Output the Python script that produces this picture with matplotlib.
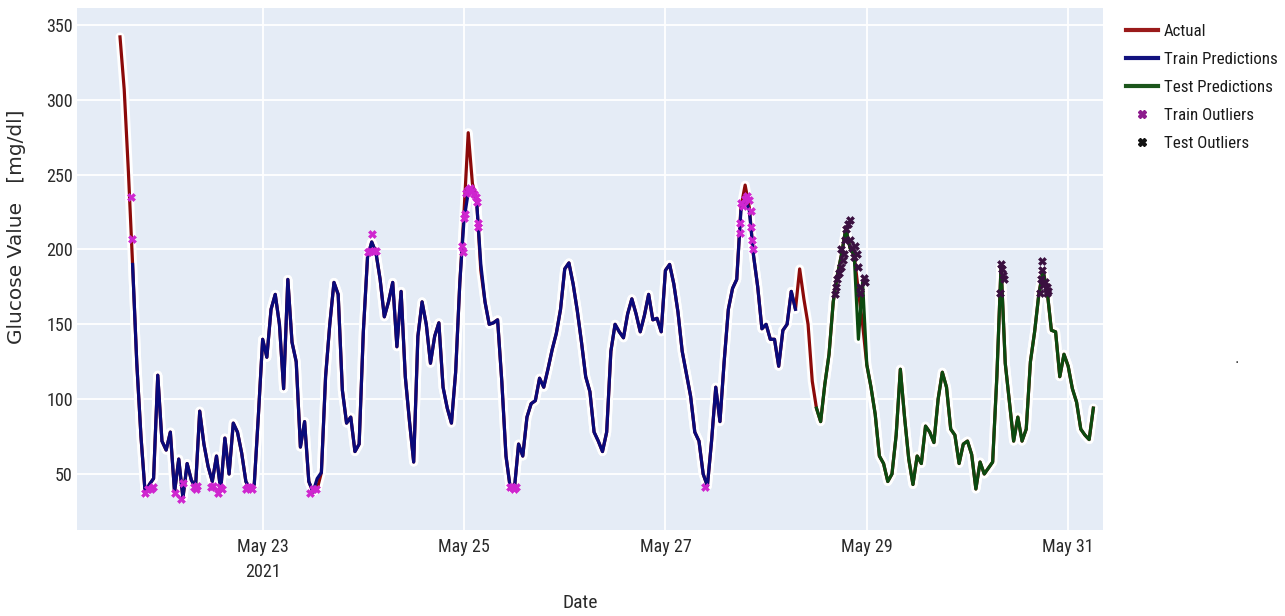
import numpy as np
import pandas as pd
import matplotlib
matplotlib.use("Agg")
import matplotlib.pyplot as plt
import matplotlib.dates as mdates
from matplotlib import font_manager
from matplotlib.lines import Line2D

# ---------------- data ----------------
start_time = "2021-05-21 14:00"   # hourly samples

actual = [
    342, 307, 252, 190, 124, 75, 37, 43, 47, 116,
    72, 66, 78, 38, 60, 34, 57, 46, 41, 92,
    70, 55, 45, 62, 39, 74, 50, 84, 78, 64,
    45, 40, 43, 90, 140, 128, 160, 170, 150, 107,
    180, 138, 125, 68, 85, 45, 38, 40, 51, 115,
    150, 178, 170, 106, 84, 88, 65, 70, 145, 195,
    205, 198, 180, 155, 165, 178, 135, 172, 115, 85,
    58, 142, 165, 150, 124, 142, 151, 108, 94, 84,
    118, 178, 225, 278, 244, 233, 186, 165, 150, 151,
    153, 112, 62, 41, 40, 70, 62, 88, 97, 99,
    114, 108, 120, 133, 144, 160, 187, 191, 177, 159,
    138, 115, 105, 78, 72, 65, 78, 132, 150, 145,
    141, 157, 167, 157, 145, 156, 170, 153, 154, 145,
    186, 190, 177, 158, 132, 117, 102, 78, 72, 50,
    42, 72, 108, 85, 125, 160, 174, 180, 228, 243,
    228, 196, 175, 147, 150, 140, 140, 122, 146, 150,
    172, 160, 187, 167, 150, 112, 94, 85, 110, 130,
    165, 183, 197, 214, 201, 196, 172, 150, 123, 108,
    90, 62, 57, 45, 50, 76, 120, 88, 60, 43,
    62, 57, 82, 78, 71, 100, 118, 108, 80, 76,
    57, 70, 72, 63, 40, 58, 50, 54, 58, 115,
    189, 124, 98, 72, 88, 72, 80, 125, 145, 170,
    186, 172, 146, 145, 115, 130, 122, 107, 98, 80,
    76, 73, 94,
]

train_pred_start = 3      # index into the hourly series
train_pred = [
    190, 124, 75, 37, 43, 47, 116,
    72, 66, 78, 38, 60, 34, 57, 46, 41, 92,
    70, 55, 45, 62, 39, 74, 50, 84, 78, 64,
    45, 40, 43, 90, 140, 128, 160, 170, 150, 107,
    180, 138, 125, 68, 85, 45, 38, 47, 51, 115,
    150, 178, 170, 106, 84, 88, 65, 70, 145, 195,
    205, 198, 180, 155, 165, 178, 135, 172, 115, 85,
    58, 142, 165, 150, 124, 142, 151, 108, 94, 84,
    118, 178, 220, 238, 240, 232, 190, 165, 150, 151,
    153, 112, 62, 41, 40, 70, 62, 88, 97, 99,
    114, 108, 120, 133, 144, 160, 187, 191, 177, 159,
    138, 115, 105, 78, 72, 65, 78, 132, 150, 145,
    141, 157, 167, 157, 145, 156, 170, 153, 154, 145,
    186, 190, 177, 158, 132, 117, 102, 78, 72, 50,
    42, 72, 108, 85, 125, 160, 174, 180, 226, 234,
    226, 196, 175, 147, 150, 140, 140, 122, 146, 150,
    172, 160,
]

test_pred_start = 166
test_pred = [
    94, 85, 110, 130,
    165, 183, 197, 214, 201, 196, 140, 178, 123, 108,
    90, 62, 57, 45, 50, 76, 120, 88, 60, 43,
    62, 57, 82, 78, 71, 100, 118, 108, 80, 76,
    57, 70, 72, 63, 40, 58, 50, 54, 58, 115,
    189, 124, 98, 72, 88, 72, 80, 125, 145, 170,
    186, 172, 146, 145, 115, 130, 122, 107, 98, 80,
    76, 73, 94,
]

train_outlier_hours = [2.55, 2.79, 5.96, 6.67, 7.39, 7.86, 13.11, 14.54, 14.94,
                       17.64, 18.11, 18.35, 21.69, 22.16, 23.43, 23.83, 24.31,
                       30.03, 30.5, 30.98, 31.46, 45.28, 46.0, 46.71,
                       59.1, 59.58, 60.06, 60.53, 61.01,
                       81.51, 81.67, 82.05, 82.22, 82.46, 82.94, 83.41, 83.89,
                       84.37, 84.84, 85.08, 85.32, 85.44,
                       92.95, 93.42, 93.9, 94.38, 139.42,
                       147.76, 147.83, 148.0, 148.47, 148.95, 149.43, 149.9,
                       150.38, 150.45, 150.69, 150.93]
train_outlier_values = [235, 207, 37, 40, 40, 41, 37, 33, 44,
                        41, 40, 42, 41, 42, 37, 41, 40,
                        40, 41, 41, 40, 37, 40, 40,
                        198, 199, 210, 199, 199,
                        202, 198, 221, 224, 238, 240, 241, 239,
                        237, 235, 232, 218, 215,
                        41, 41, 40, 41, 41,
                        211, 218, 231, 229, 234, 236, 233,
                        226, 215, 206, 200]

test_outlier_hours = [170.4, 170.64, 170.95, 171.35, 171.76, 171.88, 172.35, 172.66,
                      172.9, 173.02, 173.45, 173.93, 174.1, 174.5, 174.88, 175.29,
                      175.69, 175.83, 176.31, 176.48, 177.26, 177.67,
                      209.84, 209.96, 210.2, 210.44, 210.68,
                      219.26, 219.5, 219.66, 219.8, 220.04, 220.45, 220.85, 220.93, 221.21]
test_outlier_values = [170, 175, 180, 184, 188, 200, 193, 197,
                       206, 214, 217, 220, 206, 201, 195, 202,
                       197, 188, 175, 171, 181, 178,
                       171, 190, 187, 183, 180,
                       171, 180, 192, 186, 176, 178, 175, 171, 172]

y_ticks = [50, 100, 150, 200, 250, 300, 350]
x_tick_dates = ["2021-05-23", "2021-05-25", "2021-05-27", "2021-05-29", "2021-05-31"]
x_tick_labels = ["May 23\n2021", "May 25", "May 27", "May 29", "May 31"]
series_names = ["Actual", "Train Predictions", "Test Predictions", "Train Outliers", "Test Outliers"]

# ---------------- fonts ----------------
available = {f.name for f in font_manager.fontManager.ttflist}
narrow = None
for cand in ["Liberation Sans Narrow", "DejaVu Sans Condensed", "Roboto Condensed",
             "Open Sans Condensed", "Noto Sans Condensed"]:
    if cand in available:
        narrow = cand
        break
if narrow is not None:
    NFONT = [narrow, "DejaVu Sans"]
    tick_fs, leg_fs, xlab_fs = 13, 12.2, 14
else:
    NFONT = ["Roboto", "DejaVu Sans"]
    tick_fs, leg_fs, xlab_fs = 10.8, 10.2, 12

# ---------------- figure ----------------
W, H = 1285, 616
fig = plt.figure(figsize=(W / 100, H / 100), dpi=100)
fig.patch.set_facecolor("white")
ax = fig.add_axes([77 / W, 1 - 530 / H, (1103 - 77) / W, (530 - 8) / H])
ax.set_facecolor("#E5ECF6")

t0 = pd.Timestamp(start_time)
times = pd.date_range(t0, periods=len(actual), freq="h")
train_times = times[train_pred_start:train_pred_start + len(train_pred)]
test_times = times[test_pred_start:test_pred_start + len(test_pred)]
tr_out_t = t0 + pd.to_timedelta(train_outlier_hours, unit="h")
te_out_t = t0 + pd.to_timedelta(test_outlier_hours, unit="h")

c_actual = "#8B0A0A"
c_train = "#0A0A7A"
c_test = "#0C4A10"
c_tr_out = "#CF26CF"
c_te_out = "#3A1040"

halo = dict(color="white", lw=6.5, solid_capstyle="round", solid_joinstyle="round", zorder=2)
ax.plot(times, actual, **halo)
ax.plot(train_times, train_pred, **halo)
ax.plot(test_times, test_pred, **halo)

ax.plot(times, actual, color=c_actual, lw=2.3, zorder=3, solid_joinstyle="round")
ax.plot(train_times, train_pred, color=c_train, lw=2.3, zorder=4, solid_joinstyle="round")
ax.plot(test_times, test_pred, color=c_test, lw=2.3, zorder=5, solid_joinstyle="round")

ax.plot(tr_out_t, train_outlier_values, ls="none", marker="X", ms=5.8,
        color=c_tr_out, mec=c_tr_out, mew=0.4, zorder=6)
ax.plot(te_out_t, test_outlier_values, ls="none", marker="X", ms=5.8,
        color=c_te_out, mec=c_te_out, mew=0.4, zorder=7)

# axes ranges / ticks
ax.set_xlim(t0 - pd.Timedelta(hours=10.25), t0 + pd.Timedelta(hours=234.3))
ax.set_ylim(12.6, 361.3)
ax.set_yticks(y_ticks)
ax.set_xticks(pd.to_datetime(x_tick_dates))
ax.set_xticklabels(x_tick_labels)
for s in ax.spines.values():
    s.set_visible(False)
ax.grid(True, color="white", lw=1.3)
ax.set_axisbelow(True)
ax.tick_params(axis="both", length=0, colors="#2a2a2a")
ax.tick_params(axis="x", pad=6)
ax.tick_params(axis="y", pad=3)
for lab in ax.get_xticklabels() + ax.get_yticklabels():
    lab.set_fontfamily(NFONT)
    lab.set_fontsize(tick_fs)
    lab.set_color("#2a2a2a")
for lab in ax.get_xticklabels():
    lab.set_linespacing(1.45)

# axis titles
fig.text(580 / W, 1 - 603 / H, "Date", ha="center", va="center",
         fontsize=xlab_fs, family=NFONT, color="#2a2a2a")
fig.text(17 / W, 1 - 227 / H, "Glucose Value   [mg/dl]", rotation=90,
         ha="center", va="center", fontsize=14.5, family=["DejaVu Sans"], color="#2b2b2b")

# legend
handles = [
    Line2D([], [], color="#9A1A1A", lw=3),
    Line2D([], [], color="#12127E", lw=3),
    Line2D([], [], color="#1C561C", lw=3),
    Line2D([], [], ls="none", marker="X", ms=6, color="#8E1C8E", mec="#8E1C8E"),
    Line2D([], [], ls="none", marker="X", ms=6, color="#141414", mec="#141414"),
]
fpx = leg_fs * 100 / 72
leg = fig.legend(handles, series_names, loc="upper left",
                 bbox_to_anchor=(1126 / W, 1 - 24 / H), frameon=False,
                 borderaxespad=0, borderpad=0,
                 handlelength=32 / fpx, handletextpad=6 / fpx,
                 labelspacing=13 / fpx,
                 prop=font_manager.FontProperties(family=NFONT, size=leg_fs))
for t in leg.get_texts():
    t.set_color("#1a1a1a")

# small stray dot seen at the right side of the reference
fig.text(1237 / W, 1 - 366 / H, ".", ha="center", va="bottom", fontsize=10, color="#333333")

fig.savefig("out.png", dpi=100, facecolor="white")
